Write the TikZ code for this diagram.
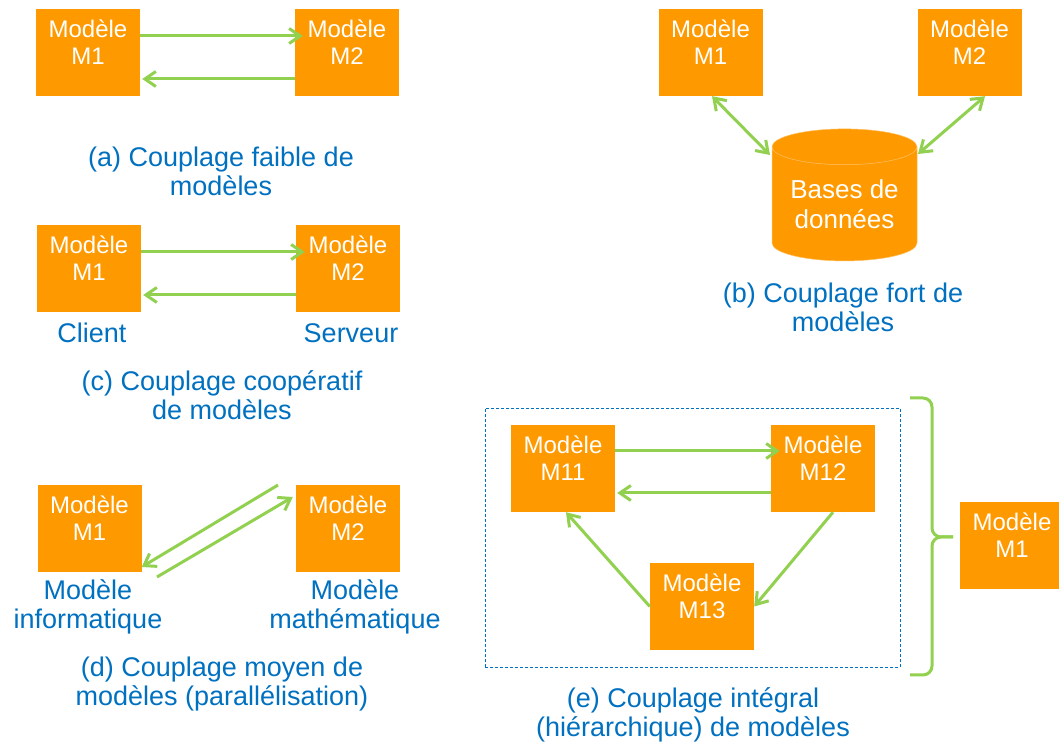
\documentclass[tikz,border=0pt]{standalone}
\usepackage{fontspec}
\setmainfont{Liberation Sans}
\usetikzlibrary{arrows.meta}
\usetikzlibrary{shapes.geometric}

\begin{document}
\begin{tikzpicture}[x=1pt, y=1pt]

\definecolor{orangeM}{RGB}{255,153,0}
\definecolor{vertL}{RGB}{146,208,80}
\definecolor{bleuT}{RGB}{0,112,192}

\tikzset{modele/.style={fill=orangeM, text=white, align=center, minimum width=104pt, minimum height=87pt, inner sep=0pt, text depth=20pt, font=\fontsize{24}{27}\selectfont}}
\tikzset{legende/.style={text=bleuT, align=center, inner sep=0pt, font=\fontsize{27}{29}\selectfont}}
\tikzset{lien/.style={draw=vertL, line width=3pt, -{Straight Barb[length=11pt,width=15pt]}}}
\tikzset{lienbi/.style={draw=vertL, line width=3pt, {Straight Barb[length=11pt,width=15pt]}-{Straight Barb[length=11pt,width=15pt]}}}

\useasboundingbox (0,0) rectangle (1059,746);

% (a) couplage faible
\node[modele] (a1) at ( 88,693.5) {Modèle\\M1};
\node[modele] (a2) at (347,693.5) {Modèle\\M2};

\draw[lien] ([yshift=16.5pt]a1.east) -- ([yshift=16.5pt, xshift=8pt]a2.west);
\draw[lien] ([yshift=-26.5pt]a2.west) -- ([yshift=-26.5pt, xshift=2pt]a1.east);

\node[legende] (capA) at (221,575) {(a) Couplage faible de\\modèles};

% (c) couplage cooperatif
\node[modele] (c1) at ( 89,477.5) {Modèle\\M1};
\node[modele] (c2) at (348,477.5) {Modèle\\M2};

\draw[lien] ([yshift=16.5pt]c1.east) -- ([yshift=16.5pt, xshift=9pt]c2.west);
\draw[lien] ([yshift=-26.5pt]c2.west) -- ([yshift=-26.5pt, xshift=2pt]c1.east);

\node[legende] (client) at ( 92,413) {Client};
\node[legende] (serveur) at (351,413) {Serveur};

\node[legende] (capC) at (222,351) {(c) Couplage coopératif\\de modèles};

% (d) couplage moyen
\node[modele] (d1) at ( 89.5,217.5) {Modèle\\M1};
\node[modele] (d2) at (348,217.5) {Modèle\\M2};

\coordinate (dA) at (278,261);
\coordinate (dB) at (157,169);

\draw[lien] (dA) -- ([yshift=-38.5pt]d1.east);
\draw[lien] (dB) -- ([shift={(-3pt,31.5pt)}]d2.west);

\node[legende] (info) at ( 88,139) {Modèle\\informatique};
\node[legende] (math) at (355,139) {Modèle\\mathématique};

\node[legende] (capD) at (222,62) {(d) Couplage moyen de\\modèles (parallélisation)};

% (b) couplage fort
\node[modele] (b1) at (710.5,693.5) {Modèle\\M1};
\node[modele] (b2) at (969.5,693.5) {Modèle\\M2};

\node[cylinder, shape border rotate=90, aspect=0.33, fill=orangeM, draw=orangeM!60!white, line width=0.5pt, text=white, align=center, minimum width=145pt, minimum height=132pt, inner sep=0pt, font=\fontsize{26}{30}\selectfont] (db) at (844.5,542) {Bases de\\données};

\draw[lienbi] ([xshift=1.5pt]b1.south) -- ([shift={(-74.5pt,49pt)}]db.center);
\draw[lienbi] ([xshift=15.5pt]b2.south) -- ([shift={(73.5pt,50pt)}]db.center);

\node[legende] (capB) at (843,438.5) {(b) Couplage fort de\\modèles};

% (e) couplage integral
\draw[bleuT, line width=0.8pt, dash pattern=on 3pt off 2pt] (485,79) rectangle (900,338);

\node[modele] (e11) at (563,277.5) {Modèle\\M11};
\node[modele] (e12) at (823,277.5) {Modèle\\M12};
\node[modele] (e13) at (702,139.5) {Modèle\\M13};

\draw[lien] ([yshift=17.5pt]e11.east) -- ([yshift=17.5pt, xshift=9pt]e12.west);
\draw[lien] ([yshift=-24.5pt]e12.west) -- ([yshift=-24.5pt, xshift=2pt]e11.east);
\draw[lien] ([xshift=10pt]e12.south) -- (e13.east);
\draw[lien] (e13.west) -- ([xshift=3pt]e11.south);

% accolade
\draw[vertL, line width=3pt, rounded corners=9pt] (910,348) -- (932,348) -- (932,209) -- (953,209);
\draw[vertL, line width=3pt, rounded corners=9pt] (910,71) -- (932,71) -- (932,209) -- (953,209);

\node[modele] (eM1) at (1012,200.5) {Modèle\\M1};

\node[legende] (capE) at (693,31) {(e) Couplage intégral\\(hiérarchique) de modèles};

\end{tikzpicture}
\end{document}
